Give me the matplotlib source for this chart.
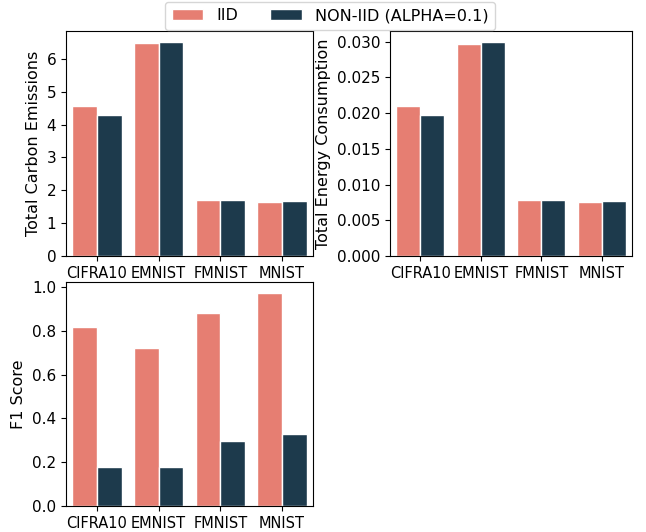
import numpy as np
import pandas as pd
import matplotlib
matplotlib.use("Agg")
import matplotlib.pyplot as plt
import seaborn as sns

datasets = ["CIFRA10", "EMNIST", "FMNIST", "MNIST"]
settings = ["IID", "NON-IID (ALPHA=0.1)"]

carbon_iid = [4.57, 6.47, 1.70, 1.65]
carbon_non = [4.28, 6.52, 1.70, 1.68]
energy_iid = [0.0210, 0.0297, 0.0078, 0.0076]
energy_non = [0.0197, 0.0300, 0.0078, 0.0077]
f1_iid = [0.82, 0.722, 0.88, 0.975]
f1_non = [0.18, 0.18, 0.298, 0.328]

palette = {"IID": "#E67E72", "NON-IID (ALPHA=0.1)": "#1D3A4C"}

df = pd.DataFrame({
    "dataset": datasets * 2,
    "setting": [settings[0]] * 4 + [settings[1]] * 4,
    "carbon": carbon_iid + carbon_non,
    "energy": energy_iid + energy_non,
    "f1": f1_iid + f1_non,
})

fig = plt.figure(figsize=(6.46, 5.32), dpi=100)
W, H = 646, 532

def add_ax(x0, y0, x1, y1):
    return fig.add_axes([x0 / W, 1 - y1 / H, (x1 - x0) / W, (y1 - y0) / H])

ax1 = add_ax(66, 31, 313, 256)
ax2 = add_ax(390, 31, 632, 256)
ax3 = add_ax(66, 282, 313, 506)

for ax, col, lab in [(ax1, "carbon", "Total Carbon Emissions"),
                     (ax2, "energy", "Total Energy Consumption"),
                     (ax3, "f1", "F1 Score")]:
    sns.barplot(data=df, x="dataset", y=col, hue="setting", palette=palette,
                saturation=1, edgecolor="white", linewidth=1, ax=ax)
    ax.set_xlabel("")
    ax.set_ylabel(lab, fontsize=11.5)
    ax.get_legend().remove()
    ax.tick_params(labelsize=11)
    ax.tick_params(axis="x", labelsize=10.5)

handles, labels = ax1.get_legend_handles_labels()
fig.legend(handles, labels, loc="upper center", ncol=2,
           bbox_to_anchor=(330 / W, 1 + 6 / H), fontsize=11.5)

fig.savefig("out.png", dpi=100)
